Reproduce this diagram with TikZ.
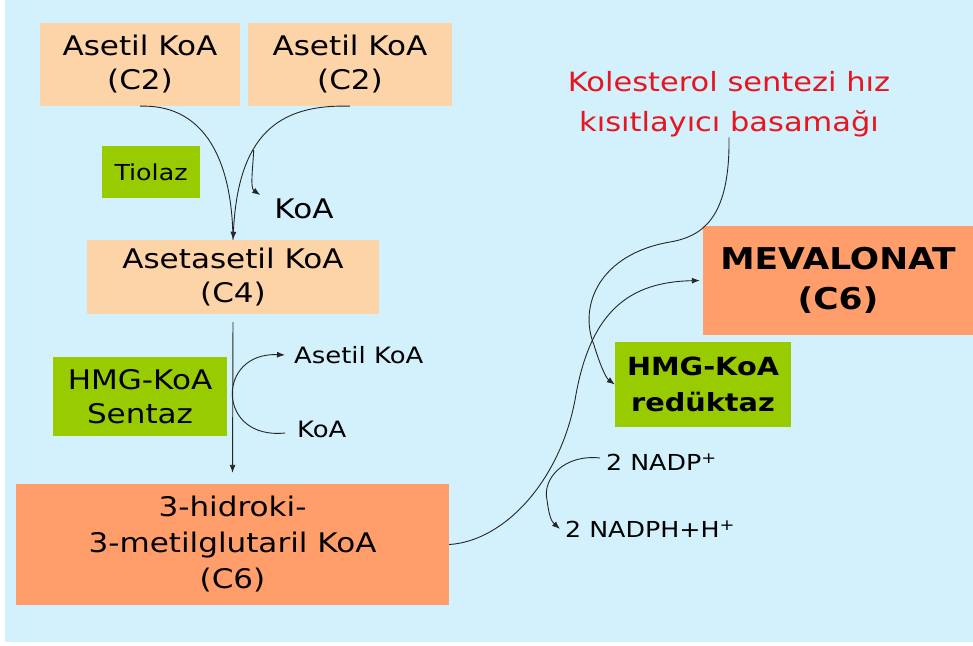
\documentclass[tikz,border=0pt]{standalone}
\usepackage{fontspec}
\setmainfont[FakeStretch=1.15]{DejaVu Sans}
\usepackage{xcolor}
\usetikzlibrary{arrows.meta,positioning,calc}
\definecolor{skybg}{HTML}{D2F1FC}
\definecolor{peach}{HTML}{FDD3A8}
\definecolor{salmon}{HTML}{FF9E6A}
\definecolor{enzgreen}{HTML}{99CC00}
\definecolor{notered}{HTML}{E8141E}
\tikzset{
  sub/.style    = {fill=peach, align=center, inner sep=0pt,
                   font=\fontsize{27}{34}\selectfont},
  prod/.style   = {fill=salmon, align=center, inner sep=0pt,
                   font=\fontsize{27}{36}\selectfont},
  enz/.style    = {fill=enzgreen, align=center, inner sep=0pt,
                   font=\fontsize{27}{34}\selectfont},
  side/.style   = {inner sep=2pt, font=\fontsize{22.5}{26}\selectfont},
  ar/.style     = {-{Latex[length=8pt,width=6pt]}, line width=0.9pt, black!85},
  ln/.style     = {line width=0.9pt, black!85},
}

\begin{document}
\begin{tikzpicture}[x=1pt,y=-1pt]
  \useasboundingbox (0,0) rectangle (973,645);
  \fill[skybg] (5,0) rectangle (973,642);

  % substrates
  \node[sub, minimum width=200, minimum height=83] (acA) at (140,64.5) {Asetil KoA\\(C2)};
  \node[sub, minimum width=204, minimum height=83] (acB) at (350,64.5) {Asetil KoA\\(C2)};
  \node[enz, minimum width=98, minimum height=52, font=\fontsize{22}{26}\selectfont] (tiol) at (151,172) {Tiolaz};
  \node[side, font=\fontsize{27}{30}\selectfont] (koaA) at (304,209) {KoA};
  \node[sub, minimum width=292, minimum height=74] (acac) at (233,277) {Asetasetil KoA\\(C4)};

  \draw[ln] (acA.south) .. controls (198,104) and (232,150) .. (acac.north);
  \draw[ar] (acB.south) .. controls (278,104) and (238,135) .. coordinate[pos=0.62] (brA) (acac.north);
  \draw[ar] (brA) .. controls ($(brA)+(-1,20)$) and (250,188) .. ([xshift=-12pt,yshift=14pt]koaA.west);

  % HMG-KoA sentaz step
  \node[enz, minimum width=174, minimum height=79] (sent) at (140,396.5) {HMG-KoA\\Sentaz};
  \node[side, anchor=west] (acC) at (292,355) {Asetil KoA};
  \node[side, anchor=west] (koaB) at (295,429) {KoA};
  \node[prod, minimum width=433, minimum height=121] (hmg) at (232.5,544.5) {3-hidroki-\\3-metilglutaril KoA\\(C6)};

  \draw[ar, shorten <=8pt, shorten >=11pt] (acac.south) -- (hmg.north);
  \draw[ar] ([xshift=-10pt,yshift=-4pt]koaB.west) .. controls (216,440) and (216,352) .. ([xshift=-7pt]acC.west);

  % reductase step
  \node[prod, minimum width=270, minimum height=109,
        font=\fontsize{30}{40}\selectfont\bfseries] (mev) at (838,280.5) {MEVALONAT\\(C6)};
  \node[enz, minimum width=176, minimum height=85,
        font=\fontsize{25}{36}\selectfont\bfseries] (red) at (703,384.5) {HMG-KoA\\redüktaz};
  \node[text=notered, align=center, font=\fontsize{26.5}{40}\selectfont] (note) at (729,104) {Kolesterol sentezi hız\\kısıtlayıcı basamağı};
  \node[side, anchor=west, font=\fontsize{22}{26}\selectfont] (nadp) at (604,462) {2 NADP\textsuperscript{+}};
  \node[side, anchor=west, font=\fontsize{22}{26}\selectfont] (nadph) at (563,529) {2 NADPH+H\textsuperscript{+}};

  \draw[ar] (hmg.east) .. controls (505,541) and (560,480) .. (575,400)
            .. controls (590,310) and (630,282) .. ([xshift=-3pt]mev.west);
  \draw[ar] ([yshift=3pt]note.south) .. controls (730,215) and (705,236) .. (670,242)
            .. controls (600,254) and (578,305) .. (594,345)
            .. controls (600,365) and (606,378) .. (red.west);
  \draw[ar] ([xshift=-4pt,yshift=4pt]nadp.west) .. controls (565,454) and (542,478) .. (547,500)
            .. controls (549,515) and (551,521) .. ([xshift=-3pt]nadph.west);
\end{tikzpicture}
\end{document}
